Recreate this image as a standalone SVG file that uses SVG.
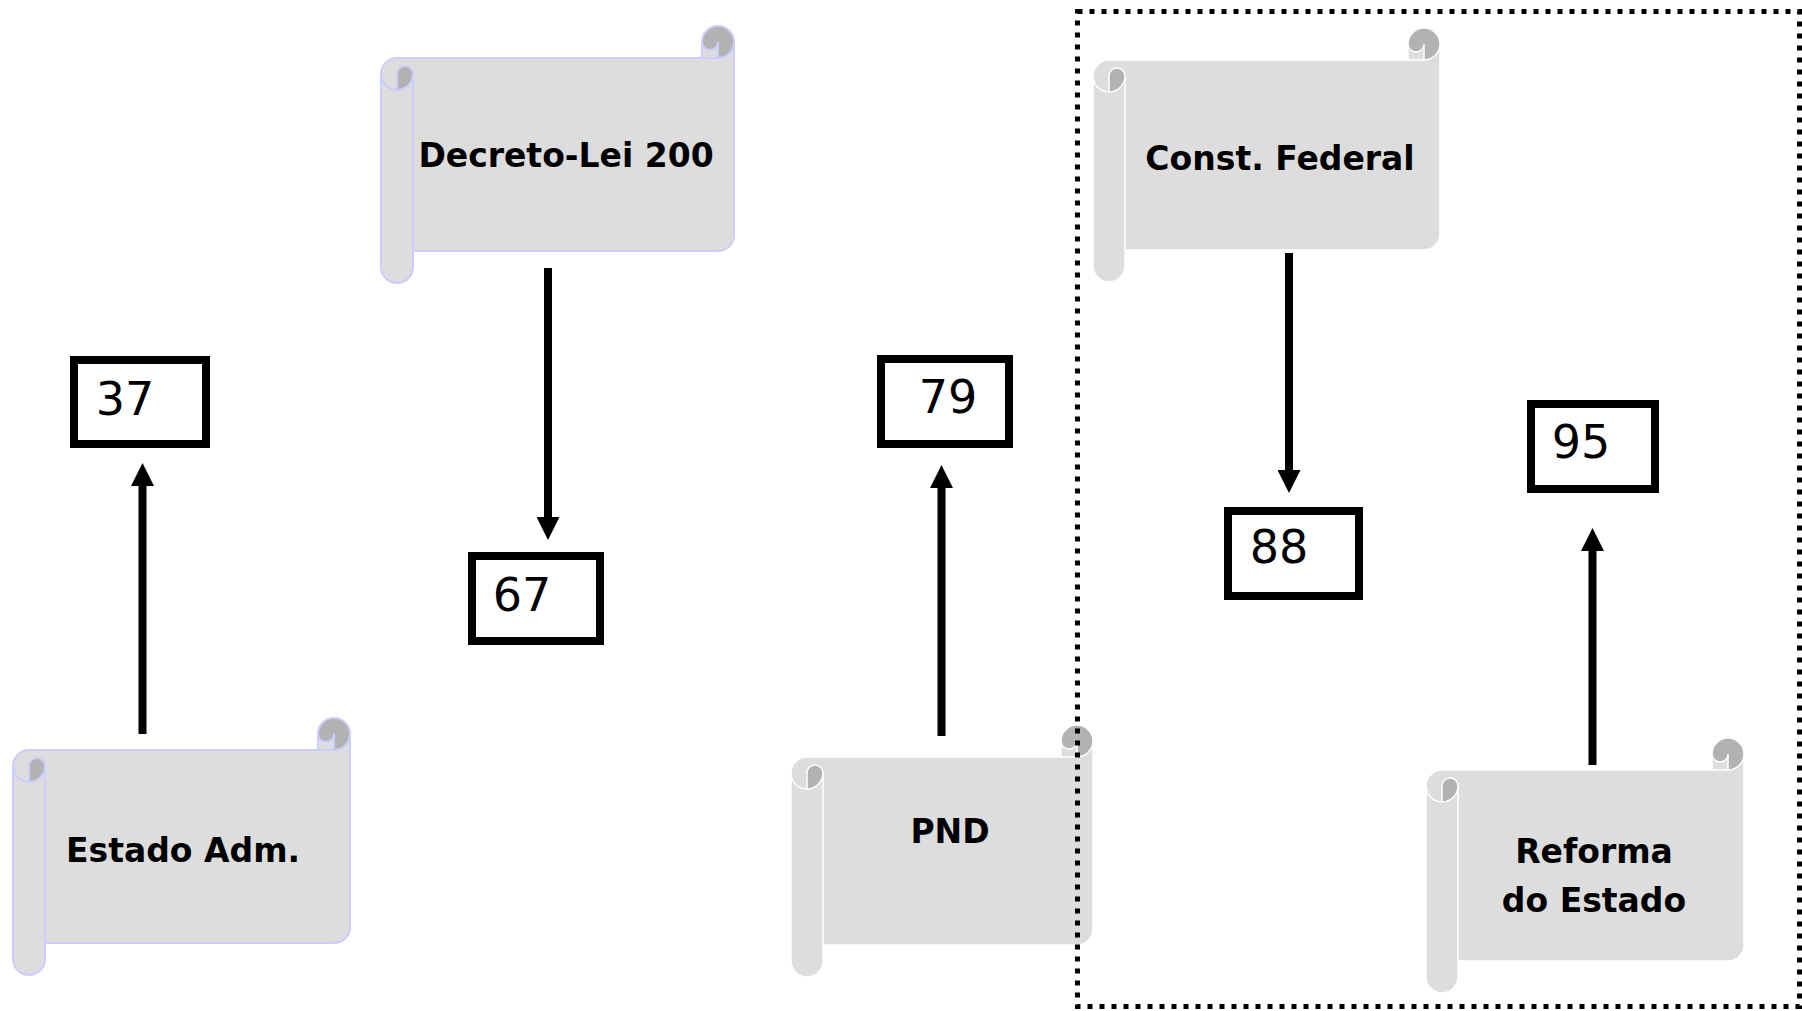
<svg xmlns="http://www.w3.org/2000/svg" width="1802" height="1011" viewBox="0 0 1802 1011">
<style>
.body{fill:#dddddd;stroke:none}
.curl{fill:#b2b2b2;stroke:none}
.edge-l{fill:none;stroke:#ccccff;stroke-width:2}
.edge-w{fill:none;stroke:#ffffff;stroke-width:1.5}
.lbl{font-family:"DejaVu Sans",sans-serif;font-weight:bold;font-size:33px;text-anchor:middle;fill:#000}
.box{fill:#ffffff;stroke:#000;stroke-width:8}
.num{font-family:"DejaVu Sans",sans-serif;font-size:46px;text-anchor:middle;fill:#000}
.conn{stroke:#000;stroke-width:8;fill:none}
.frame{fill:none;stroke:#000;stroke-width:5;stroke-dasharray:5 7}
</style>
<defs>
<marker id="ah" markerUnits="userSpaceOnUse" markerWidth="23" markerHeight="23" refX="0" refY="11.5" orient="auto" viewBox="0 0 23 23">
<path d="M0,0 L23,11.5 L0,23 Z" fill="#000"/>
</marker>
</defs>

<rect width="1802" height="1011" fill="#ffffff"/>

<g id="scroll-decreto">
<g transform="translate(381,26)">
<path class="body" d="M353,16 A16,16 0 0 1 337,32 L337,16 A8,8 0 0 1 321,16 L321,32 L16,32 A16,16 0 0 0 0,48 L0,241 A16,16 0 0 0 32,241 L32,225 L337,225 A16,16 0 0 0 353,209 Z"/>
<path class="curl" d="M16,64 A16,16 0 0 0 32,48 A8,8 0 0 0 16,48 Z M337,32 A16,16 0 1 0 321,16 A8,8 0 0 0 337,16 Z"/>
<path class="edge-l" d="M0,48 A16,16 0 0 1 16,32 L321,32 L321,16 A16,16 0 0 1 353,16 L353,209 A16,16 0 0 1 337,225 L32,225 L32,241 A16,16 0 0 1 0,241 Z M321,32 L337,32 A16,16 0 0 0 353,16 M337,32 L337,16 A8,8 0 0 1 321,16 M16,64 L16,48 A8,8 0 0 1 32,48 A16,16 0 0 1 0,48 M32,48 L32,225"/>
</g>
<text class="lbl" x="566" y="167">Decreto-Lei 200</text>
</g>

<g id="scroll-estado">
<g transform="translate(13,718)">
<path class="body" d="M337,16 A16,16 0 0 1 321,32 L321,16 A8,8 0 0 1 305,16 L305,32 L16,32 A16,16 0 0 0 0,48 L0,241 A16,16 0 0 0 32,241 L32,225 L321,225 A16,16 0 0 0 337,209 Z"/>
<path class="curl" d="M16,64 A16,16 0 0 0 32,48 A8,8 0 0 0 16,48 Z M321,32 A16,16 0 1 0 305,16 A8,8 0 0 0 321,16 Z"/>
<path class="edge-l" d="M0,48 A16,16 0 0 1 16,32 L305,32 L305,16 A16,16 0 0 1 337,16 L337,209 A16,16 0 0 1 321,225 L32,225 L32,241 A16,16 0 0 1 0,241 Z M305,32 L321,32 A16,16 0 0 0 337,16 M321,32 L321,16 A8,8 0 0 1 305,16 M16,64 L16,48 A8,8 0 0 1 32,48 A16,16 0 0 1 0,48 M32,48 L32,225"/>
</g>
<text class="lbl" x="183" y="862">Estado Adm.</text>
</g>

<g id="scroll-pnd">
<g transform="translate(791,725)">
<path class="body" d="M302,16 A16,16 0 0 1 286,32 L286,16 A8,8 0 0 1 270,16 L270,32 L16,32 A16,16 0 0 0 0,48 L0,236 A16,16 0 0 0 32,236 L32,220 L286,220 A16,16 0 0 0 302,204 Z"/>
<path class="curl" d="M16,64 A16,16 0 0 0 32,48 A8,8 0 0 0 16,48 Z M286,32 A16,16 0 1 0 270,16 A8,8 0 0 0 286,16 Z"/>
<path class="edge-w" d="M0,48 A16,16 0 0 1 16,32 L270,32 L270,16 A16,16 0 0 1 302,16 L302,204 A16,16 0 0 1 286,220 L32,220 L32,236 A16,16 0 0 1 0,236 Z M270,32 L286,32 A16,16 0 0 0 302,16 M286,32 L286,16 A8,8 0 0 1 270,16 M16,64 L16,48 A8,8 0 0 1 32,48 A16,16 0 0 1 0,48 M32,48 L32,220"/>
</g>
<text class="lbl" x="950" y="843">PND</text>
</g>

<g id="scroll-federal">
<g transform="translate(1093,28)">
<path class="body" d="M347,16 A16,16 0 0 1 331,32 L331,16 A8,8 0 0 1 315,16 L315,32 L16,32 A16,16 0 0 0 0,48 L0,238 A16,16 0 0 0 32,238 L32,222 L331,222 A16,16 0 0 0 347,206 Z"/>
<path class="curl" d="M16,64 A16,16 0 0 0 32,48 A8,8 0 0 0 16,48 Z M331,32 A16,16 0 1 0 315,16 A8,8 0 0 0 331,16 Z"/>
<path class="edge-w" d="M0,48 A16,16 0 0 1 16,32 L315,32 L315,16 A16,16 0 0 1 347,16 L347,206 A16,16 0 0 1 331,222 L32,222 L32,238 A16,16 0 0 1 0,238 Z M315,32 L331,32 A16,16 0 0 0 347,16 M331,32 L331,16 A8,8 0 0 1 315,16 M16,64 L16,48 A8,8 0 0 1 32,48 A16,16 0 0 1 0,48 M32,48 L32,222"/>
</g>
<text class="lbl" x="1280" y="170">Const. Federal</text>
</g>

<g id="scroll-reforma">
<g transform="translate(1426,738)">
<path class="body" d="M318,16 A16,16 0 0 1 302,32 L302,16 A8,8 0 0 1 286,16 L286,32 L16,32 A16,16 0 0 0 0,48 L0,239 A16,16 0 0 0 32,239 L32,223 L302,223 A16,16 0 0 0 318,207 Z"/>
<path class="curl" d="M16,64 A16,16 0 0 0 32,48 A8,8 0 0 0 16,48 Z M302,32 A16,16 0 1 0 286,16 A8,8 0 0 0 302,16 Z"/>
<path class="edge-w" d="M0,48 A16,16 0 0 1 16,32 L286,32 L286,16 A16,16 0 0 1 318,16 L318,207 A16,16 0 0 1 302,223 L32,223 L32,239 A16,16 0 0 1 0,239 Z M286,32 L302,32 A16,16 0 0 0 318,16 M302,32 L302,16 A8,8 0 0 1 286,16 M16,64 L16,48 A8,8 0 0 1 32,48 A16,16 0 0 1 0,48 M32,48 L32,223"/>
</g>
<text class="lbl" x="1594" y="863">Reforma</text>
<text class="lbl" x="1594" y="912">do Estado</text>
</g>

<g id="year-37">
<rect class="box" x="74" y="360" width="132" height="84"/>
<text class="num" x="125" y="415">37</text>
</g>
<g id="year-67">
<rect class="box" x="472" y="556" width="128" height="85"/>
<text class="num" x="522" y="611">67</text>
</g>
<g id="year-79">
<rect class="box" x="881" y="359" width="128" height="85"/>
<text class="num" x="948" y="413">79</text>
</g>
<g id="year-88">
<rect class="box" x="1228" y="511" width="131" height="85"/>
<text class="num" x="1279" y="563">88</text>
</g>
<g id="year-95">
<rect class="box" x="1531" y="404" width="124" height="85"/>
<text class="num" x="1581" y="458">95</text>
</g>

<g id="connectors">
<line class="conn" x1="142.5" y1="734" x2="142.5" y2="486" marker-end="url(#ah)"/>
<line class="conn" x1="548" y1="268" x2="548" y2="517" marker-end="url(#ah)"/>
<line class="conn" x1="941.5" y1="736" x2="941.5" y2="488" marker-end="url(#ah)"/>
<line class="conn" x1="1289" y1="253" x2="1289" y2="470" marker-end="url(#ah)"/>
<line class="conn" x1="1592.5" y1="765" x2="1592.5" y2="551" marker-end="url(#ah)"/>
</g>

<rect id="frame" class="frame" x="1077.5" y="11.5" width="722" height="995"/>
</svg>
